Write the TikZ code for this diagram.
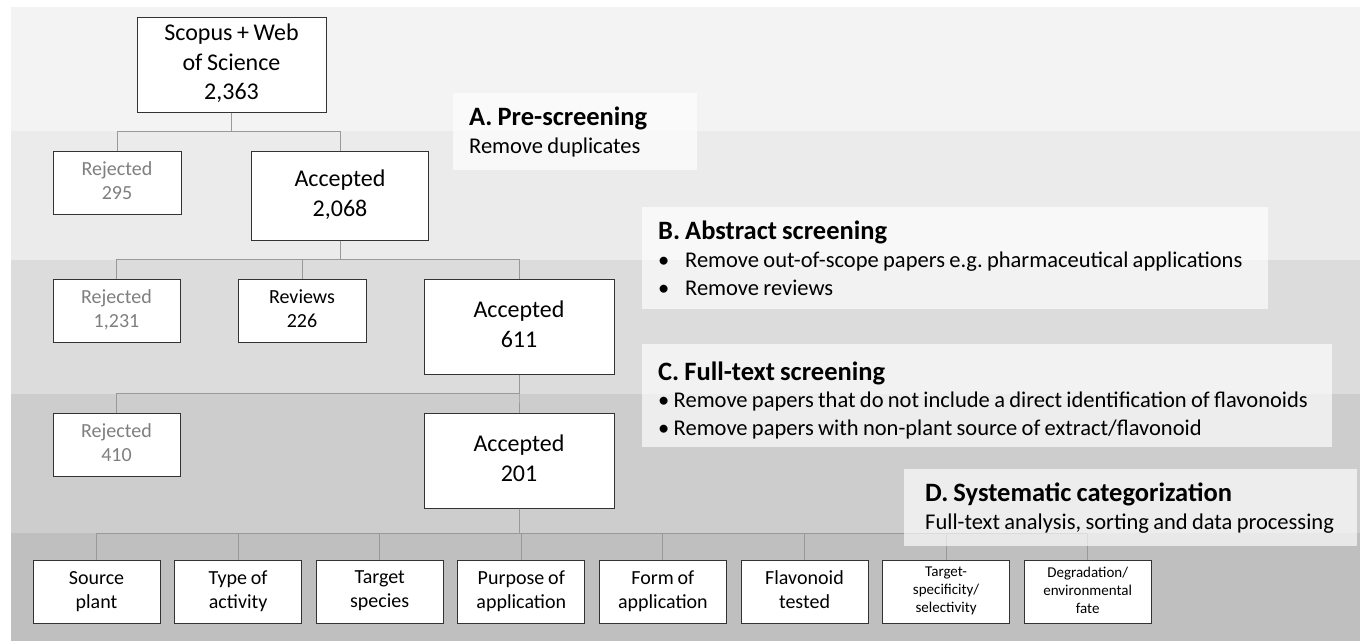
\documentclass[tikz,border=0pt]{standalone}
\usepackage{fontspec}
\setmainfont{Carlito}[WordSpace=0.85]
\usetikzlibrary{positioning}
\frenchspacing

\definecolor{bandA}{HTML}{F3F3F3}
\definecolor{bandB}{HTML}{EBEBEB}
\definecolor{bandC}{HTML}{DCDCDC}
\definecolor{bandD}{HTML}{CDCDCD}
\definecolor{bandE}{HTML}{BFBFBF}
\definecolor{boxline}{HTML}{333333}
\definecolor{linkgrey}{HTML}{999999}
\definecolor{rejgrey}{HTML}{7F7F7F}

\newcommand{\stagehead}[1]{{\fontsize{26.5}{29}\selectfont\bfseries #1}}

\begin{document}
\begin{tikzpicture}[
    x=1pt, y=-1pt,
    node distance=13.6pt,
    box/.style={rectangle, draw=boxline, line width=1pt, fill=white, inner sep=0pt, align=center, minimum width=128pt, minimum height=63pt,
        execute at begin node={\rule{0pt}{1.3em}}, execute at end node={\rule[-0.2em]{0pt}{0.2em}}},
    bigbox/.style={box, minimum width=190pt, minimum height=95pt, font=\fontsize{24}{29.5}\selectfont},
    smallbox/.style={box, font=\fontsize{20}{24}\selectfont},
    rejbox/.style={smallbox, text=rejgrey},
    catbox/.style={smallbox, minimum width=127pt},
    tinybox/.style={catbox, font=\fontsize{15}{18}\selectfont},
    link/.style={draw=linkgrey, line width=0.9pt},
    stage/.style={rectangle, fill=white, fill opacity=0.65, text opacity=1, anchor=north west, inner xsep=16pt, inner ysep=0pt, align=left, font=\fontsize{22.5}{28}\selectfont,
        execute at begin node={\spaceskip=0pt\xspaceskip=0pt}}
]
    \useasboundingbox (0,0) rectangle (1360,641);

    % Shaded bands, one per screening step
    \fill[bandA] (11,7) rectangle (1360,131);
    \fill[bandB] (11,131) rectangle (1360,260);
    \fill[bandC] (11,260) rectangle (1360,394);
    \fill[bandD] (11,394) rectangle (1360,533);
    \fill[bandE] (11,533) rectangle (1360,641);

    % Nodes
    \node[bigbox, minimum width=189pt] (db) at (231.5,64.5) {Scopus + Web\\of Science\\2,363};
    \node[rejbox] (rejA) at (117,182.5) {Rejected\\295};
    \node[bigbox, minimum width=177pt, minimum height=89pt] (accA) at (340,195.5) {Accepted\\2,068};
    \node[rejbox, minimum width=127pt] (rejB) at (116.5,310.5) {Rejected\\1,231};
    \node[smallbox] (rev) at (302,310.5) {Reviews\\226};
    \node[bigbox] (accB) at (519,326.5) {Accepted\\611};
    \node[rejbox, minimum width=127pt] (rejC) at (116.5,444.5) {Rejected\\410};
    \node[bigbox] (accC) at (519,460.5) {Accepted\\201};

    % Categories
    \node[catbox] (src) at (96.5,591.5) {Source\\plant};
    \node[catbox, right=of src] (act) {Type of\\activity};
    \node[catbox, right=of act] (spec) {Target\\species};
    \node[catbox, right=of spec] (purp) {Purpose of\\application};
    \node[catbox, right=of purp] (form) {Form of\\application};
    \node[catbox, right=of form] (flav) {Flavonoid\\tested};
    \node[tinybox, right=of flav] (sel) {Target-\\specificity/\\selectivity};
    \node[tinybox, right=of sel] (fate) {Degradation/\\environmental\\fate};

    % Tree lines
    \draw[link] (db.south) -- ++(0,19) -| (rejA.north);
    \draw[link] (db.south) -- ++(0,19) -| (accA.north);
    \draw[link] (accA.south) -- ++(0,19) -| (rejB.north);
    \draw[link] (accA.south) -- ++(0,19) -| (rev.north);
    \draw[link] (accA.south) -- ++(0,19) -| (accB.north);
    \draw[link] (accB.south) -- ++(0,19) -| (rejC.north);
    \draw[link] (accB.south) -- ++(0,19) -| (accC.north);
    \draw[link] (accC.south) -- ++(0,25) -| (src.north);
    \draw[link] (accC.south) -- ++(0,25) -| (act.north);
    \draw[link] (accC.south) -- ++(0,25) -| (spec.north);
    \draw[link] (accC.south) -- ++(0,25) -| (purp.north);
    \draw[link] (accC.south) -- ++(0,25) -| (form.north);
    \draw[link] (accC.south) -- ++(0,25) -| (flav.north);
    \draw[link] (accC.south) -- ++(0,25) -| (sel.north);
    \draw[link] (accC.south) -- ++(0,25) -| (fate.north);

    % Step descriptions
    \node[stage, text width=212pt, minimum height=77pt] (stepA) at (453,93)
        {\stagehead{A. Pre-screening}\\Remove duplicates};
    \node[stage, text width=594pt, minimum height=102pt] (stepB) at (642,207)
        {\stagehead{B. Abstract screening}\\
         \makebox[27pt][l]{\textbullet}Remove out-of-scope papers e.g. pharmaceutical applications\\
         \makebox[27pt][l]{\textbullet}Remove reviews};
    \node[stage, text width=658pt, minimum height=103pt] (stepC) at (642,344)
        {\rule{0pt}{28pt}\stagehead{C. Full-text screening}\\[-1pt]
         \textbullet{} Remove papers that do not include a direct identification of flavonoids\\
         \textbullet{} Remove papers with non-plant source of extract/flavonoid};
    \node[stage, inner xsep=21pt, text width=411pt, minimum height=77pt] (stepD) at (904,469)
        {\stagehead{D. Systematic categorization}\\Full-text analysis, sorting and data processing};
\end{tikzpicture}
\end{document}
